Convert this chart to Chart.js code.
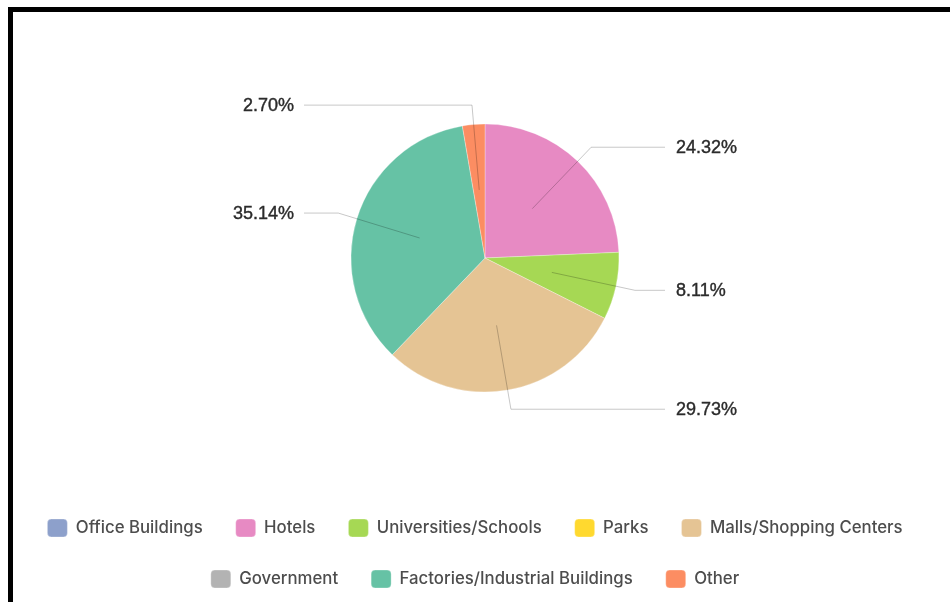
<!DOCTYPE html>
<html>
<head>
<meta charset="utf-8">
<title>Building types</title>
<script src="https://cdn.jsdelivr.net/npm/chart.js@4.4.1/dist/chart.umd.min.js"></script>
<style>
  html, body { margin: 0; padding: 0; background: #fff; overflow: hidden; }
  #frame {
    position: absolute; left: 8px; top: 7px; width: 960px; height: 620px;
    border-top: 5px solid #000; border-left: 5px solid #000;
  }
  #wrap { position: absolute; left: 0; top: 0; width: 950px; height: 602px; }
</style>
</head>
<body>
<div id="frame"></div>
<div id="wrap"><canvas id="chart"></canvas></div>
<script>
var categories = ['Office Buildings', 'Hotels', 'Universities/Schools', 'Parks',
  'Malls/Shopping Centers', 'Government', 'Factories/Industrial Buildings', 'Other'];
var counts = [0, 9, 3, 0, 11, 0, 13, 1];
var colors = ['#8da0cb', '#e78ac3', '#a6d854', '#ffd92f', '#e5c494', '#b3b3b3', '#66c2a5', '#fc8d62'];

// nudge the pie right of the legend's centre line
var shiftPie = {
  id: 'shiftPie',
  afterLayout: function(chart) {
    chart.chartArea.left += 10;
    chart.chartArea.right += 10;
  }
};

// percentage labels with elbow leader lines
var leaderLabels = {
  id: 'leaderLabels',
  afterDatasetsDraw: function(chart) {
    var ctx = chart.ctx;
    var meta = chart.getDatasetMeta(0);
    var total = counts.reduce(function(a, b) { return a + b; }, 0);
    ctx.save();
    meta.data.forEach(function(arc, i) {
      if (!counts[i]) return;
      var p = arc.getProps(['x', 'y', 'startAngle', 'endAngle', 'outerRadius'], true);
      var mid = (p.startAngle + p.endAngle) / 2;
      var c = Math.cos(mid), s = Math.sin(mid), r = p.outerRadius;
      var right = c >= 0;
      var x0 = p.x + c * r * 0.51, y0 = p.y + s * r * 0.51;
      var x1 = p.x + c * r * 1.145, y1 = p.y + s * r * 1.145;
      var x2 = p.x + (right ? 180 : -181);

      ctx.beginPath();
      ctx.moveTo(x0, y0);
      ctx.lineTo(x1, y1);
      ctx.lineTo(x2, y1);
      ctx.strokeStyle = 'rgba(0,0,0,0.22)';
      ctx.lineWidth = 1;
      ctx.stroke();

      var text = (counts[i] / total * 100).toFixed(2) + '%';
      var tx = x2 + (right ? 11 : -10);
      ctx.font = '18px "Liberation Sans", Arial, sans-serif';
      ctx.fillStyle = '#2b2b2b';
      ctx.strokeStyle = '#2b2b2b';
      ctx.lineWidth = 0.4;
      ctx.textBaseline = 'middle';
      ctx.textAlign = right ? 'left' : 'right';
      ctx.fillText(text, tx, y1 + 1);
      ctx.strokeText(text, tx, y1 + 1);
    });
    ctx.restore();
  }
};

new Chart(document.getElementById('chart'), {
  type: 'pie',
  data: {
    labels: categories,
    datasets: [{
      data: counts,
      backgroundColor: colors,
      borderColor: 'rgba(255,255,255,0.6)',
      borderWidth: 0.5
    }]
  },
  options: {
    responsive: true,
    maintainAspectRatio: false,
    animation: false,
    radius: 134,
    layout: { padding: { top: 30, bottom: 4, left: 0, right: 0 } },
    plugins: {
      tooltip: { enabled: false },
      legend: {
        position: 'bottom',
        labels: {
          boxWidth: 20,
          boxHeight: 18,
          padding: 33,
          useBorderRadius: true,
          borderRadius: 4,
          color: '#4d4d4d',
          font: { family: 'Inter, "Noto Sans", sans-serif', size: 16.8, weight: 500 }
        }
      }
    }
  },
  plugins: [shiftPie, leaderLabels]
});
</script>
</body>
</html>
